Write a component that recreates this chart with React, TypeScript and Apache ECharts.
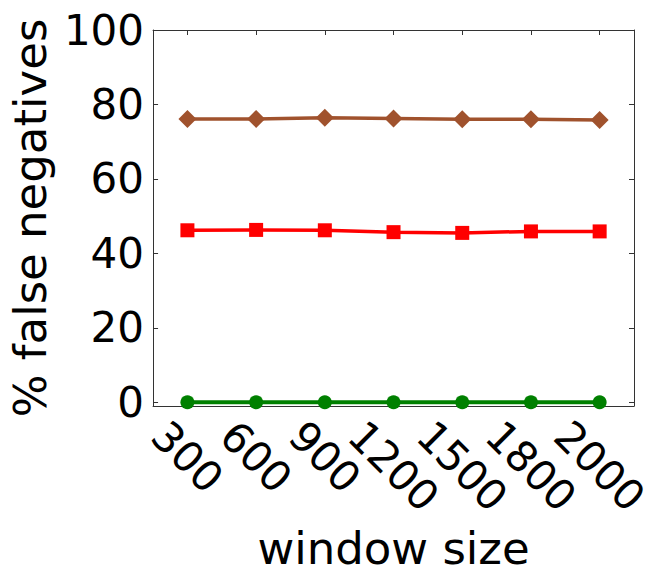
import React, { useEffect, useRef } from "react";
import * as echarts from "echarts";

const categories = ["300", "600", "900", "1200", "1500", "1800", "2000"];
const brownValues = [76.1, 76.1, 76.4, 76.2, 76.0, 76.0, 75.8];
const redValues = [46.2, 46.3, 46.2, 45.7, 45.5, 45.9, 45.9];
const greenValues = [0.0, 0.0, 0.0, 0.0, 0.0, 0.0, 0.0];
const yTicks = [0, 20, 40, 60, 80, 100];

const FONT = "DejaVu Sans";

export default function App() {
  const ref = useRef<HTMLDivElement>(null);
  useEffect(() => {
    if (!ref.current) return;
    const chart = echarts.init(ref.current, null, { renderer: "svg" });
    const frame = { show: true, onZero: false, lineStyle: { color: "#333", width: 1 } };
    const tick = { show: true, inside: true, length: 5, lineStyle: { color: "#333", width: 1 } };
    chart.setOption({
      animation: false,
      backgroundColor: "#fff",
      grid: { left: 149, right: 30, top: 30, bottom: 182, containLabel: false },
      xAxis: [
        {
          type: "category",
          data: categories,
          boundaryGap: true,
          position: "bottom",
          axisLine: frame,
          axisTick: { ...tick, alignWithLabel: true },
          splitLine: { show: false },
          axisLabel: {
            rotate: -45,
            align: "center",
            verticalAlign: "middle",
            margin: 51,
            color: "#000",
            fontFamily: FONT,
            fontSize: 42,
            interval: 0,
            formatter: (v: string) => (v.length > 3 ? `{l|${v}}` : `{s|${v}}`),
            rich: {
              s: { fontFamily: FONT, fontSize: 42, color: "#000" },
              l: { fontFamily: FONT, fontSize: 42, color: "#000", padding: [13, 0, 0, 13] },
            },
          },
          name: "window size",
          nameLocation: "middle",
          nameGap: 117,
          nameTextStyle: { fontFamily: FONT, fontSize: 45, color: "#000" },
        },
        {
          type: "category",
          data: categories,
          boundaryGap: true,
          position: "top",
          axisLine: frame,
          axisTick: { ...tick, alignWithLabel: true },
          axisLabel: { show: false },
          splitLine: { show: false },
        },
      ],
      yAxis: [
        {
          type: "value",
          min: -1,
          max: 100,
          position: "left",
          axisLine: frame,
          axisTick: { ...tick, customValues: yTicks },
          splitLine: { show: false },
          axisLabel: {
            customValues: yTicks,
            margin: 9,
            color: "#000",
            fontFamily: FONT,
            fontSize: 42,
            padding: [0, 0, 14, 0],
          },
          name: "% false negatives",
          nameLocation: "middle",
          nameGap: 92,
          nameRotate: 90,
          nameTextStyle: { fontFamily: FONT, fontSize: 45, color: "#000" },
        },
        {
          type: "value",
          min: -1,
          max: 100,
          position: "right",
          axisLine: frame,
          axisTick: { ...tick, customValues: yTicks },
          axisLabel: { show: false },
          splitLine: { show: false },
        },
      ],
      series: [
        {
          name: "green",
          type: "line",
          data: greenValues,
          symbol: "circle",
          symbolSize: 14,
          lineStyle: { color: "#008000", width: 4 },
          itemStyle: { color: "#008000" },
          z: 3,
        },
        {
          name: "red",
          type: "line",
          data: redValues,
          symbol: "rect",
          symbolSize: 14,
          lineStyle: { color: "#ff0000", width: 3.5 },
          itemStyle: { color: "#ff0000" },
          z: 3,
        },
        {
          name: "brown",
          type: "line",
          data: brownValues,
          symbol: "diamond",
          symbolSize: [18, 18],
          lineStyle: { color: "#a0522d", width: 3.5 },
          itemStyle: { color: "#a0522d" },
          z: 3,
        },
      ],
    });
    return () => chart.dispose();
  }, []);
  return <div ref={ref} style={{ width: 664, height: 588, position: "absolute", left: 0, top: 0 }} />;
}
